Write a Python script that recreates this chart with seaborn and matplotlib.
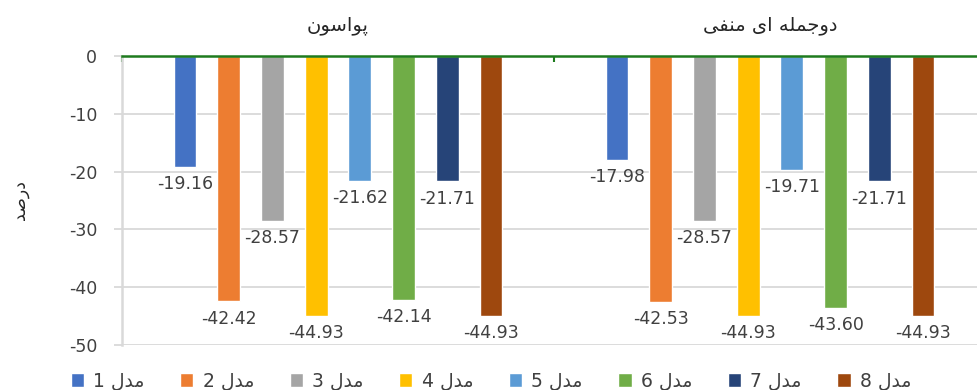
import re
import pandas as pd
import matplotlib
matplotlib.use("Agg")
import matplotlib.pyplot as plt
import seaborn as sns
from matplotlib.ticker import FixedLocator

sns.set_style("white")
plt.rcParams['font.family'] = ['DejaVu Sans']
plt.rcParams['axes.unicode_minus'] = False

# Chart data
groups = ['پواسون', 'دوجمله ای منفی']
models = ['مدل 1', 'مدل 2', 'مدل 3', 'مدل 4', 'مدل 5', 'مدل 6', 'مدل 7', 'مدل 8']
poisson_vals = [-19.16, -42.42, -28.57, -44.93, -21.62, -42.14, -21.71, -44.93]
negbin_vals = [-17.98, -42.53, -28.57, -44.93, -19.71, -43.60, -21.71, -44.93]
y_label = 'درصد'
colors = ['#4472C4', '#ED7D31', '#A5A5A5', '#FFC000', '#5B9BD5', '#70AD47', '#264478', '#9E480E']

# Minimal Persian shaping: (isolated, final, initial, medial); None => does not join left
FORMS = {
    'ا': ('\uFE8D', '\uFE8E', None, None),
    'پ': ('\uFB56', '\uFB57', '\uFB58', '\uFB59'),
    'و': ('\uFEED', '\uFEEE', None, None),
    'س': ('\uFEB1', '\uFEB2', '\uFEB3', '\uFEB4'),
    'ن': ('\uFEE5', '\uFEE6', '\uFEE7', '\uFEE8'),
    'د': ('\uFEA9', '\uFEAA', None, None),
    'ج': ('\uFE9D', '\uFE9E', '\uFE9F', '\uFEA0'),
    'م': ('\uFEE1', '\uFEE2', '\uFEE3', '\uFEE4'),
    'ل': ('\uFEDD', '\uFEDE', '\uFEDF', '\uFEE0'),
    'ه': ('\uFEE9', '\uFEEA', '\uFEEB', '\uFEEC'),
    'ی': ('\uFBFC', '\uFBFD', '\uFBFE', '\uFBFF'),
    'ف': ('\uFED1', '\uFED2', '\uFED3', '\uFED4'),
    'ص': ('\uFEB9', '\uFEBA', '\uFEBB', '\uFEBC'),
    'ر': ('\uFEAD', '\uFEAE', None, None),
}


def shape(text):
    out = []
    for i, ch in enumerate(text):
        if ch not in FORMS:
            out.append(ch)
            continue
        prev = text[i - 1] if i > 0 else ''
        nxt = text[i + 1] if i + 1 < len(text) else ''
        join_prev = prev in FORMS and FORMS[prev][2] is not None
        join_next = FORMS[ch][2] is not None and nxt in FORMS
        iso, fin, ini, med = FORMS[ch]
        if join_prev and join_next:
            out.append(med)
        elif join_prev:
            out.append(fin)
        elif join_next:
            out.append(ini)
        else:
            out.append(iso)
    visual = ''.join(out)[::-1]
    # keep digit runs left-to-right
    return re.sub(r'[0-9.]+', lambda m: m.group(0)[::-1], visual)


df = pd.DataFrame({
    'group': [groups[0]] * len(models) + [groups[1]] * len(models),
    'model': models * 2,
    'value': poisson_vals + negbin_vals,
})

W, H = 977, 390
fig = plt.figure(figsize=(W / 100, H / 100), dpi=100)
ax = fig.add_axes([122 / W, 1 - 345 / H, (986 - 122) / W, (345 - 56) / H])

sns.barplot(data=df, x='group', y='value', hue='model', order=groups, hue_order=models,
            palette=colors, width=0.81, gap=0.48, saturation=1, ax=ax, legend=True)

ax.set_xlim(-0.5, 1.5)
ax.set_ylim(-50, 0)
ax.set_yticks(range(-50, 1, 10))
ax.grid(axis='y', color='#d9d9d9', linewidth=1.3)
ax.set_axisbelow(True)

for s in ['right', 'bottom']:
    ax.spines[s].set_visible(False)
ax.spines['left'].set_color('#d9d9d9')
ax.spines['left'].set_linewidth(1.8)
ax.spines['top'].set_color('#1E7B1E')
ax.spines['top'].set_linewidth(1.8)

ax.tick_params(axis='y', colors='#d9d9d9', labelcolor='#404040', labelsize=12.5,
               length=6, width=1.3, pad=12, direction='out', left=True)

# category labels on top, boundary ticks in green
ax.xaxis.tick_top()
ax.set_xticks([0, 1])
ax.set_xticklabels([shape(g) for g in groups])
ax.tick_params(axis='x', which='major', length=0, pad=15, labelsize=14, labelcolor='#262626')
ax.xaxis.set_minor_locator(FixedLocator([-0.5, 0.5, 1.5]))
ax.tick_params(axis='x', which='minor', direction='in', length=4.5, width=1.5,
               color='#1E7B1E', top=True, bottom=False)
ax.set_xlabel('')
ax.set_ylabel('')

# value labels under each bar
for cont in ax.containers:
    for bar in cont:
        val = bar.get_y() + bar.get_height()
        ax.annotate(f'{val:.2f}', (bar.get_x() + bar.get_width() / 2, min(bar.get_y(), val)),
                    xytext=(0, -6), textcoords='offset points', ha='center', va='top',
                    fontsize=12.5, color='#404040', annotation_clip=False)

fig.text(20 / W, 1 - 200 / H, shape(y_label), rotation=90, ha='center', va='center',
         fontsize=12.5, color='#262626')

handles, _ = ax.get_legend_handles_labels()
ax.get_legend().remove()
fig.legend(handles, [shape(m) for m in models], ncol=8, loc='center', bbox_to_anchor=(491 / W, 1 - 381 / H),
           frameon=False, fontsize=13.5, handlelength=0.7, handleheight=0.7, handletextpad=0.5,
           columnspacing=1.9, labelcolor='#404040')

fig.savefig('out.png', dpi=100)
